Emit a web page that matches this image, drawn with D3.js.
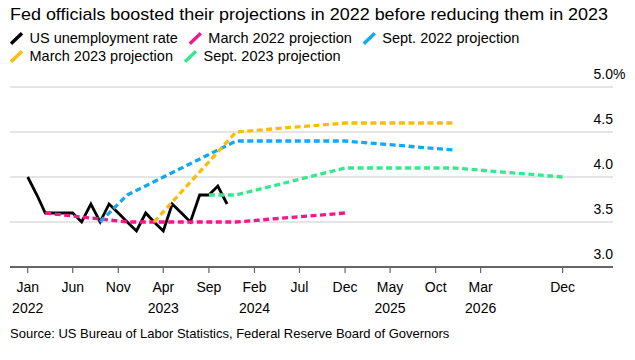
<!DOCTYPE html>
<html>
<head>
<meta charset="utf-8">
<script src="https://cdn.jsdelivr.net/npm/d3@7"></script>
<style>
  html, body { margin: 0; padding: 0; background: #fff; }
  svg { display: block; font-family: "Liberation Sans", Arial, Helvetica, sans-serif; }
</style>
</head>
<body>
<svg id="chart" width="635" height="360"></svg>
<script>
// ---------- DATA ----------
const titleText = "Fed officials boosted their projections in 2022 before reducing them in 2023";
const sourceText = "Source: US Bureau of Labor Statistics, Federal Reserve Board of Governors";

const unempDates = ["2022-01","2022-02","2022-03","2022-04","2022-05","2022-06","2022-07","2022-08","2022-09","2022-10","2022-11","2022-12",
                    "2023-01","2023-02","2023-03","2023-04","2023-05","2023-06","2023-07","2023-08","2023-09","2023-10","2023-11"];
const unempValues = [4.0,3.8,3.6,3.6,3.6,3.6,3.5,3.7,3.5,3.7,3.6,3.5,
                     3.4,3.6,3.5,3.4,3.7,3.6,3.5,3.8,3.8,3.9,3.7];

const mar22Dates = ["2022-03","2022-12","2023-12","2024-12"];
const mar22Values = [3.6,3.5,3.5,3.6];
const sep22Dates = ["2022-09","2022-12","2023-12","2024-12","2025-12"];
const sep22Values = [3.5,3.8,4.4,4.4,4.3];
const mar23Dates = ["2023-03","2023-12","2024-12","2025-12"];
const mar23Values = [3.5,4.5,4.6,4.6];
const sep23Dates = ["2023-09","2023-12","2024-12","2025-12","2026-12"];
const sep23Values = [3.8,3.8,4.1,4.1,4.0];

const seriesNames = ["US unemployment rate","March 2022 projection","Sept. 2022 projection","March 2023 projection","Sept. 2023 projection"];
const seriesColors = ["#000000","#f5168c","#14a8f2","#fbbc0a","#35ea8e"];

const xTickDates = ["2022-01","2022-06","2022-11","2023-04","2023-09","2024-02","2024-07","2024-12","2025-05","2025-10","2026-03","2026-12"];
const xTickMonths = ["Jan","Jun","Nov","Apr","Sep","Feb","Jul","Dec","May","Oct","Mar","Dec"];
const xTickYears  = ["2022","","","2023","","2024","","","2025","","2026",""];
const yTicks = [3.0,3.5,4.0,4.5,5.0];
const yTickLabels = ["3.0","3.5","4.0","4.5","5.0"];

// ---------- SETUP ----------
const parse = d3.timeParse("%Y-%m");
const svg = d3.select("#chart");
const plotLeft = 10, plotRight = 613;
const x = d3.scaleTime()
  .domain([parse("2022-01"), parse("2026-12")])
  .range([27.7, 562.6]);
const y = d3.scaleLinear().domain([3, 5]).range([267, 87]);

// Title
const title = svg.append("text")
  .attr("x", 10).attr("y", 19.5)
  .attr("font-size", 17).attr("fill", "#000")
  .text(titleText);
const tw = title.node().getComputedTextLength();
if (Math.abs(tw - 598) > 2) title.attr("textLength", 598).attr("lengthAdjust", "spacingAndGlyphs");

// Legend (flow layout)
const legendRows = [[0,1,2],[3,4]];
const rowBaselines = [42.7, 60.7];
legendRows.forEach((row, ri) => {
  let cx = 10;
  row.forEach(si => {
    const bl = rowBaselines[ri];
    svg.append("line")
      .attr("x1", cx + 1).attr("y1", bl + 1)
      .attr("x2", cx + 12).attr("y2", bl - 9.5)
      .attr("stroke", seriesColors[si]).attr("stroke-width", 3.4);
    const t = svg.append("text")
      .attr("x", cx + 19.5).attr("y", bl)
      .attr("font-size", 14.5).attr("fill", "#000")
      .text(seriesNames[si]);
    cx = cx + 19.5 + t.node().getComputedTextLength() + 11;
  });
});

// Gridlines
svg.append("g").selectAll("line")
  .data(yTicks.filter(v => v > 3))
  .join("line")
  .attr("x1", plotLeft).attr("x2", plotRight)
  .attr("y1", d => y(d)).attr("y2", d => y(d))
  .attr("stroke", "#dcdcdc").attr("stroke-width", 1.3);

// Y labels
svg.append("g").selectAll("text")
  .data(yTicks)
  .join("text")
  .attr("x", plotRight).attr("y", d => y(d) - 8.5)
  .attr("text-anchor", "end")
  .attr("font-size", 14).attr("fill", "#000")
  .text((d, i) => yTickLabels[i]);
svg.append("text")
  .attr("x", plotRight).attr("y", y(5) - 8.5)
  .attr("font-size", 14).attr("fill", "#000")
  .text("%");

// X axis
const xa = svg.append("g");
xa.append("line")
  .attr("x1", plotLeft).attr("x2", plotRight)
  .attr("y1", y(3)).attr("y2", y(3))
  .attr("stroke", "#333").attr("stroke-width", 1.4);
const tickG = xa.selectAll("g.tick")
  .data(xTickDates)
  .join("g").attr("class", "tick")
  .attr("transform", d => `translate(${x(parse(d))},0)`);
tickG.append("line")
  .attr("y1", y(3)).attr("y2", y(3) + 6)
  .attr("stroke", "#666").attr("stroke-width", 1.2);
tickG.append("text")
  .attr("y", 292).attr("text-anchor", "middle")
  .attr("font-size", 14).attr("fill", "#000")
  .text((d, i) => xTickMonths[i]);
tickG.append("text")
  .attr("y", 313).attr("text-anchor", "middle")
  .attr("font-size", 14).attr("fill", "#000")
  .text((d, i) => xTickYears[i]);

// Lines
const mk = (dates, vals) => dates.map((d, i) => ({ date: parse(d), v: vals[i] }));
const lineGen = d3.line().x(d => x(d.date)).y(d => y(d.v)).curve(d3.curveLinear);

svg.append("path")
  .datum(mk(unempDates, unempValues))
  .attr("d", lineGen)
  .attr("fill", "none").attr("stroke", seriesColors[0])
  .attr("stroke-width", 2.8).attr("stroke-linejoin", "miter");

const projections = [
  [mar22Dates, mar22Values, 1],
  [sep22Dates, sep22Values, 2],
  [mar23Dates, mar23Values, 3],
  [sep23Dates, sep23Values, 4]
];
projections.forEach(([d, v, ci]) => {
  svg.append("path")
    .datum(mk(d, v))
    .attr("d", lineGen)
    .attr("fill", "none").attr("stroke", seriesColors[ci])
    .attr("stroke-width", 3.3).attr("stroke-dasharray", "6,3.5")
    .attr("stroke-linejoin", "round");
});

// Source
svg.append("text")
  .attr("x", 10).attr("y", 338)
  .attr("font-size", 13).attr("fill", "#000")
  .text(sourceText);
</script>
</body>
</html>
